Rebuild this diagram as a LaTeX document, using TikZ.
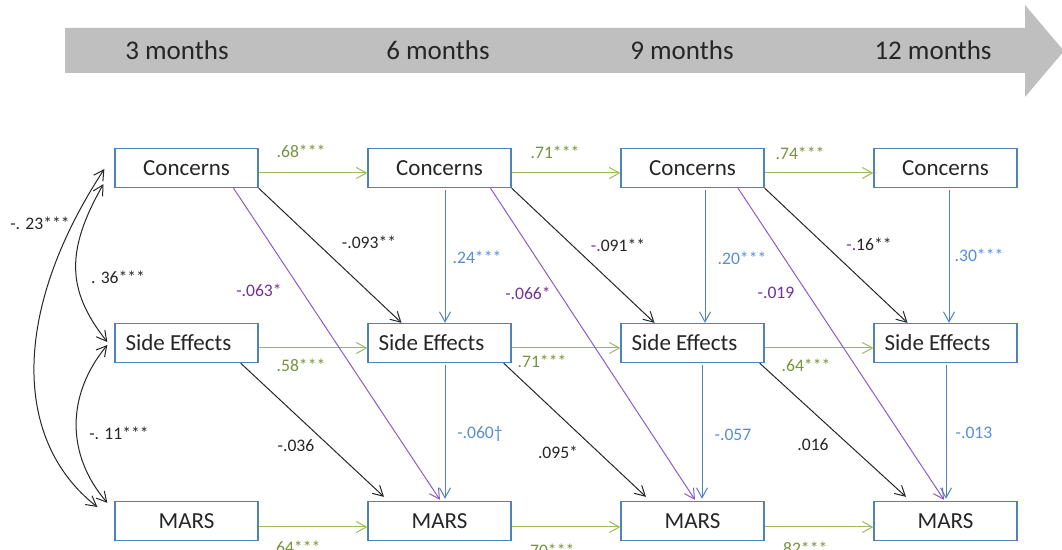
\documentclass[tikz,border=0pt]{standalone}
\usepackage{fontspec}
\setmainfont{Carlito}
\usetikzlibrary{arrows.meta,calc}
\definecolor{boxblue}{HTML}{4F81BD}
\definecolor{bandgray}{HTML}{BFBFBF}
\definecolor{green}{HTML}{9BBB59}
\definecolor{darkgreen}{HTML}{77933C}
\definecolor{blue}{HTML}{4F81BD}
\definecolor{bluetext}{HTML}{558ED5}
\definecolor{purple}{HTML}{8B5CC6}
\definecolor{purpletext}{HTML}{7030A0}
\definecolor{dark}{HTML}{262626}
\tikzset{
  var/.style={draw=boxblue,line width=0.65pt,fill=white,minimum width=71.5pt,minimum height=19.5pt,inner sep=0pt,font=\fontsize{11.5}{13}\selectfont,text=dark},
  timelabel/.style={font=\fontsize{13.5}{15}\selectfont,text=dark},
  coef/.style={font=\fontsize{8.8}{10}\selectfont,inner sep=0pt},
  arr/.style={-{Straight Barb[length=5pt,width=5.5pt]},line width=0.5pt},
  stabarr/.style={arr,draw=green},
  crossarr/.style={arr,draw=dark},
  lagarr/.style={arr,draw=purple},
  withinarr/.style={arr,draw=blue},
  covarr/.style={{Straight Barb[length=5pt,width=5.5pt]}-{Straight Barb[length=5pt,width=5.5pt]},draw=dark,line width=0.5pt}
}
\begin{document}
\begin{tikzpicture}[x=0.5pt,y=-0.5pt]
\path[use as bounding box] (0,0) rectangle (1062,550);
% time line
\fill[bandgray] (65,28) -- (1025,28) -- (1025,5) -- (1064,51) -- (1025,97) -- (1025,73) -- (65,73) -- cycle;
\foreach \n/\x/\lab in {t3/177/{3 months},t6/438/{6 months},t9/682/{9 months},t12/933/{12 months}}
  \node[timelabel] (\n) at (\x,50) {\lab};

% variables per wave
\foreach \i/\x in {1/186.5,2/439.5,3/692.5,4/945.5}{
  \node[var] (c\i) at (\x,168) {Concerns};
  \node[var] (s\i) at (\x,343) {Side Effects\hspace{8pt}\null};
  \node[var] (m\i) at (\x,521) {MARS};
}

% paths between waves
\foreach \i/\j/\sa/\sb/\pa/\pb/\bt/\bb in {1/2/-18/-55.5/47/0.5/5.5/5.5,2/3/-8/-46.5/51/2.5/12.5/9.5,3/4/-5/-39.5/45.5/-1.5/3.5/0.5}{
  \draw[stabarr] ($(c\i.east)+(0,5)$) -- ($(c\j.west)+(0,5)$);
  \draw[stabarr] ($(s\i.east)+(0,5)$) -- ($(s\j.west)+(0,5)$);
  \draw[stabarr] ($(m\i.east)+(0,6)$) -- ($(m\j.west)+(0,6)$);
  \draw[crossarr] (c\i.south east) -- ($(s\j.north)+(-38,0)$);
  \draw[crossarr] ($(s\i.south east)+(\sa,0)$) -- ($(m\j.north)+(\sb,-4)$);
  \draw[lagarr] ($(c\i.south)+(\pa,0)$) -- ($(m\j.north)+(\pb,-1)$);
  \draw[withinarr] ($(c\j.south)+(\bt,2)$) -- ($(s\j.north)+(\bt,0)$);
  \draw[withinarr] ($(s\j.south)+(\bb,2)$) -- ($(m\j.north)+(\bb,-2)$);
}

% covariances at 3 months
\draw[covarr] ($(c1.west)+(-10,1)$) .. controls (12,310) and (12,440) .. ($(m1.west)+(-17,-14)$);
\draw[covarr] ($(c1.south west)+(-11,-4)$) .. controls (66,250) and (66,290) .. ($(s1.west)+(-7,-1)$);
\draw[covarr] ($(s1.west)+(-7,2)$) .. controls (66,395) and (66,455) .. ($(m1.north west)+(-7,2)$);

% coefficients
\foreach \n/\x/\y/\lab in {g1/301/151/{.68***},g2/555/152/{.71***},g3/800/153/{.74***},
  g4/301/365/{.58***},g5/542/361/{.71***},g6/806/365/{.64***},
  g7/296/547/{.64***},g8/550/550/{.70***},g9/803/548/{.82***}}
  \node[coef,text=darkgreen] (\n) at (\x,\y) {\lab};
\foreach \n/\x/\y/\lab in {k1/369/242/{-.093**},k2/618/245/{{\color{purpletext}-.}091**},k3/869/244/{{\color{purpletext}-.}16**},
  k4/296/446/{-.036},k5/558/452/{.095*},k6/813/445/{.016},
  v1/40/223/{-. 23***},v2/118/277/{. 36***},v3/119/433/{-. 11***}}
  \node[coef,text=dark] (\n) at (\x,\y) {\lab};
\foreach \n/\x/\y/\lab in {p1/259/290/{-.063*},p2/528/293/{-.066*},p3/776/293/{-.019}}
  \node[coef,text=purpletext] (\n) at (\x,\y) {\lab};
\foreach \n/\x/\y/\lab in {b1/477/257/{.24***},b2/742/258/{.20***},b3/979/255/{.30***},
  b4/480/434/{-.060†},b5/733/435/{-.057},b6/974/433/{-.013}}
  \node[coef,text=bluetext] (\n) at (\x,\y) {\lab};
\end{tikzpicture}
\end{document}
